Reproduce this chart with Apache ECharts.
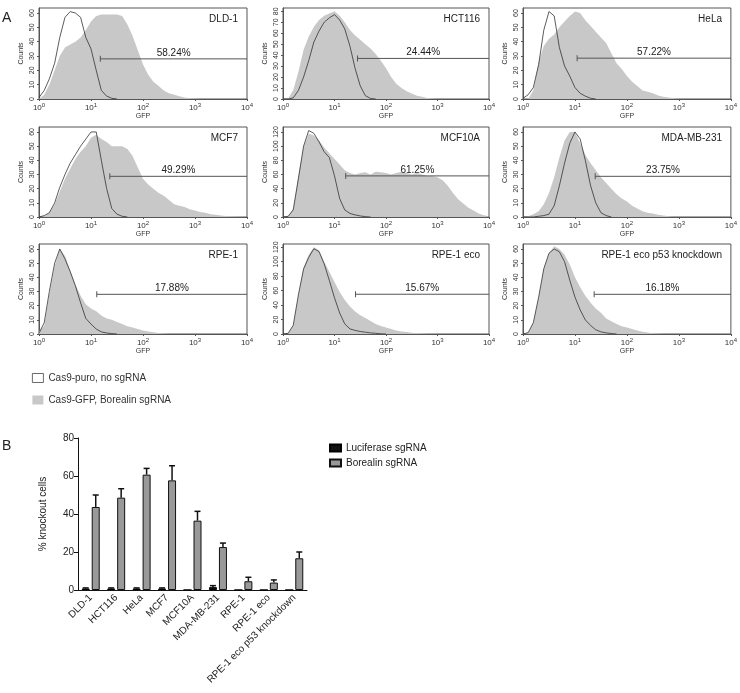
<!DOCTYPE html>
<html>
<head>
<meta charset="utf-8">
<script src="https://cdn.jsdelivr.net/npm/echarts@6/dist/echarts.min.js"></script>
<style>
html,body{margin:0;padding:0;background:#fff}
#chart{width:740px;height:693px}
</style>
</head>
<body>
<div id="chart"></div>
<script>
// GFP bins, 0.1 decade apart
var gfp = [1,1.26,1.58,2,2.51,3.16,3.98,5.01,6.31,7.94,10,12.6,15.8,20,25.1,31.6,39.8,50.1,63.1,79.4,100,126,158,200,251,316,398,501,631,794,1000,1259,1585,1995,2512,3162,3981,5012,6310,7943,10000];

var panelNames = ['DLD-1','HCT116','HeLa','MCF7','MCF10A','MDA-MB-231','RPE-1','RPE-1 eco','RPE-1 eco p53 knockdown'];
var gatePercent = ['58.24%','24.44%','57.22%','49.29%','61.25%','23.75%','17.88%','15.67%','16.18%'];
var gateStart = [15.1,28,11,23,16.5,24.5,12.9,25.6,23.4];
var gateLevel = [28,37,28.5,28.7,58,28.7,28,55,28];
var countsMax = [63.5,83,63.5,63.5,127,63.5,63.5,124.5,63.5];
var countsStep = [10,10,10,10,20,10,10,20,10];

// Cas9-puro, no sgRNA (outline)
var dld1Puro = [1,6,14,25,43,57,61,60,57,43,35,20,6,2,0.5,0];
var hct116Puro = [0,0,1,8,20,35,52,62,70,74,77,72,64,48,28,12,3,0.5,0];
var helaPuro = [0.5,3,8,24,48,61,58,36,23,16,8,4,2,0.5,0];
var mcf7Puro = [0,1,3,10,21,30,38,44,50,55,60,60,40,20,6,2,0.5,0];
var mcf10aPuro = [0,1,10,55,100,122,118,106,92,84,58,26,10,5,3,1.5,0.5,0];
var mdaPuro = [0,0,0,0.5,1,2,8,22,38,52,60,55,40,22,10,3,1,0];
var rpe1Puro = [0.5,8,30,50,60,53,44,34,22,11,7,3.5,1.5,0.7,0.3,0];
var rpeEcoPuro = [0,1,12,55,90,106,118,114,97,74,50,29,14,7,5,3.5,2.5,1.5,1,0.3,0];
var p53Puro = [0,1,8,26,46,57,60,58,51,38,26,17,10,6,3,1.5,0.8,0.3,0];

// Cas9-GFP, Borealin sgRNA (filled)
var dld1Gfp = [0,3,10,20,30,36,38,40,43,48,54,58,59,59,59,59,58,52,44,34,24,17,12,9,6,4,3,2,1,0.5,0.3,0];
var hct116Gfp = [0,0.5,8,25,45,57,66,72,76,78,80,76,70,63,58,54,50,46,41,35,28,20,14,10,7,5,3,2,1,0.5,0];
var helaGfp = [0,0,6,26,37,42,45,50,54,58,61,60,55,51,47,43,39,32,25,21,16,12,9,6,5,4,2.5,1.5,1,0.5,0];
var mcf7Gfp = [0,0.5,3,9,18,27,34,41,46,50,56,58,55,53,50,50,50,48,43,35,27,23,20,17,15,12,9,8,7,5.5,4.5,3.5,3,2,1.5,1,0.7,0.5,0.3,0.1,0];
var mcf10aGfp = [0,1,12,60,100,118,115,108,98,90,82,74,66,62,60,62,63,60,64,63,62,60,62,64,62,60,62,60,58,58,56,52,44,34,25,19,13,9,5,2.5,1];
var mdaGfp = [0,0.5,2,4,9,17,28,42,54,60,60,52,44,38,33,28,24,20,16,13,11,8,6,4,3,2.5,1.5,1,0.5,0];
var rpe1Gfp = [2,6,28,48,60,55,45,35,27,21,18,16,13,11,10,8.5,7,5.5,4.5,3.5,2.5,1.8,1.2,0.7,0.4,0];
var rpeEcoGfp = [0,1,12,55,92,110,120,116,100,86,72,58,47,38,31,26,22,18,14,11,9,7,5,3.5,2.6,1.9,1.3,0.9,0.5,0.2,0];
var p53Gfp = [0,1,8,26,46,57,62,60,56,49,40,33,27,22,18,15,11,9,7,5.5,4.5,3.5,2.5,1.6,1.1,0.6,0.3,0];

var puroSets = [dld1Puro,hct116Puro,helaPuro,mcf7Puro,mcf10aPuro,mdaPuro,rpe1Puro,rpeEcoPuro,p53Puro];
var gfpSets = [dld1Gfp,hct116Gfp,helaGfp,mcf7Gfp,mcf10aGfp,mdaGfp,rpe1Gfp,rpeEcoGfp,p53Gfp];

// panel B
var cellLines = ['DLD-1','HCT116','HeLa','MCF7','MCF10A','MDA-MB-231','RPE-1','RPE-1 eco','RPE-1 eco p53 knockdown'];
var luciferase = [0.8,0.8,0.8,0.8,0,1.5,0,0,0];
var luciferaseErr = [0.3,0.3,0.3,0.3,0,0.8,0,0,0];
var borealin = [43.7,48.6,60.7,57.7,36.5,22.6,4.6,3.9,16.7];
var borealinErr = [6.3,4.7,3.3,7.7,4.9,2.1,2.1,1.4,3.3];

var FONT = '"Liberation Sans", Arial, sans-serif';
var PURO = 'Cas9-puro, no sgRNA';
var GFP = 'Cas9-GFP, Borealin sgRNA';

var chart = echarts.init(document.getElementById('chart'), null, {renderer: 'canvas'});

var lefts = [39,283,523], widths = [208,206,208];
var tops = [8,127,244], heights = [91,90,90];

var grids = [], xAxes = [], yAxes = [], series = [], titles = [];

function pairs(arr) {
    return arr.map(function (v, k) { return [gfp[k], v]; });
}

panelNames.forEach(function (name, i) {
    var col = i % 3, row = Math.floor(i / 3);
    grids.push({
        left: lefts[col], top: tops[row], width: widths[col], height: heights[row],
        show: true, borderColor: '#555', borderWidth: 1, backgroundColor: 'transparent'
    });
    xAxes.push({
        type: 'log', logBase: 10, gridIndex: i, min: 1, max: 10000,
        name: 'GFP', nameLocation: 'middle', nameGap: 12,
        nameTextStyle: {fontSize: 7, color: '#333', fontFamily: FONT},
        axisLine: {show: true, lineStyle: {color: '#555', width: 1}},
        axisTick: {show: true, length: 2, lineStyle: {color: '#555'}},
        minorTick: {show: false},
        splitLine: {show: false},
        axisLabel: {
            margin: 3, color: '#333', fontFamily: FONT,
            formatter: function (v) {
                return '{a|10}{e|' + Math.round(Math.log(v) / Math.LN10) + '}';
            },
            rich: {
                a: {fontSize: 8, fontFamily: FONT, color: '#333'},
                e: {fontSize: 6, fontFamily: FONT, color: '#333', padding: [0, 0, 6, 0]}
            }
        }
    });
    yAxes.push({
        type: 'value', gridIndex: i, min: 0, max: countsMax[i], interval: countsStep[i],
        name: 'Counts', nameLocation: 'middle', nameGap: 14,
        nameTextStyle: {fontSize: 7, color: '#333', fontFamily: FONT},
        axisLine: {show: true, lineStyle: {color: '#555', width: 1}},
        axisTick: {show: true, length: 2, lineStyle: {color: '#555'}},
        splitLine: {show: false},
        axisLabel: {rotate: 90, fontSize: 7, margin: 3, color: '#333', fontFamily: FONT, showMaxLabel: false}
    });
    titles.push({
        text: name, right: 740 - (lefts[col] + widths[col]) + 9, top: tops[row] + 6, padding: 0,
        textStyle: {fontSize: 10, fontWeight: 'normal', color: '#222', fontFamily: FONT}
    });
    series.push({
        name: GFP, type: 'line', xAxisIndex: i, yAxisIndex: i,
        data: pairs(gfpSets[i]), symbol: 'none', silent: true,
        lineStyle: {width: 0, color: '#c8c8c8'}, itemStyle: {color: '#c8c8c8'},
        areaStyle: {color: '#c8c8c8', opacity: 1}, z: 2
    });
    series.push({
        name: PURO, type: 'line', xAxisIndex: i, yAxisIndex: i,
        data: pairs(puroSets[i]), symbol: 'none', silent: true,
        lineStyle: {width: 0.8, color: '#333'}, itemStyle: {color: '#333'}, z: 3
    });
    series.push({
        type: 'line', xAxisIndex: i, yAxisIndex: i, silent: true, z: 4,
        lineStyle: {width: 1, color: '#555'}, itemStyle: {color: '#555'},
        data: [
            {value: [gateStart[i], gateLevel[i]], symbol: 'rect', symbolSize: [1, 6]},
            {value: [Math.sqrt(gateStart[i] * 10000), gateLevel[i]], symbol: 'rect', symbolSize: [0.01, 0.01],
             label: {show: true, position: 'top', distance: 1, formatter: gatePercent[i],
                     fontSize: 10, color: '#222', fontFamily: FONT}},
            {value: [10000, gateLevel[i]], symbol: 'rect', symbolSize: [0.01, 0.01]}
        ]
    });
});

// panel B grid
var bi = panelNames.length;
grids.push({left: 78, top: 438, width: 229, height: 152});
xAxes.push({
    type: 'category', gridIndex: bi, data: cellLines,
    axisLine: {lineStyle: {color: '#111', width: 1}},
    axisTick: {show: false},
    axisLabel: {rotate: 45, interval: 0, fontSize: 10, margin: 6, color: '#222', fontFamily: FONT}
});
yAxes.push({
    type: 'value', gridIndex: bi, min: 0, max: 80, interval: 20,
    name: '% knockout cells', nameLocation: 'middle', nameGap: 30,
    nameTextStyle: {fontSize: 10, color: '#222', fontFamily: FONT},
    axisLine: {show: true, lineStyle: {color: '#111', width: 1}},
    axisTick: {show: true, length: 4, lineStyle: {color: '#111'}},
    splitLine: {show: false},
    axisLabel: {fontSize: 10, margin: 4, color: '#222', fontFamily: FONT}
});
series.push({
    name: 'Luciferase sgRNA', type: 'bar', xAxisIndex: bi, yAxisIndex: bi,
    data: luciferase, barWidth: 8, barGap: '25%',
    itemStyle: {color: '#111', borderColor: '#000', borderWidth: 1}
});
series.push({
    name: 'Borealin sgRNA', type: 'bar', xAxisIndex: bi, yAxisIndex: bi,
    data: borealin, barWidth: 8, barGap: '25%',
    itemStyle: {color: '#999', borderColor: '#111', borderWidth: 1}
});

function errorSeries(vals, errs, offset) {
    return {
        type: 'custom', xAxisIndex: bi, yAxisIndex: bi, silent: true, z: 5,
        data: vals.map(function (v, k) { return [k, v, errs[k]]; }),
        renderItem: function (params, api) {
            var e = api.value(2);
            if (!e) return null;
            var v = api.value(1);
            var p0 = api.coord([api.value(0), v]);
            var p1 = api.coord([api.value(0), v + e]);
            var x = p0[0] + offset;
            var st = {stroke: '#111', lineWidth: 1.5};
            return {type: 'group', children: [
                {type: 'line', shape: {x1: x, y1: p0[1], x2: x, y2: p1[1]}, style: st},
                {type: 'line', shape: {x1: x - 3, y1: p1[1], x2: x + 3, y2: p1[1]}, style: st}
            ]};
        }
    };
}
series.push(errorSeries(luciferase, luciferaseErr, -5));
series.push(errorSeries(borealin, borealinErr, 5));

var option = {
    animation: false,
    backgroundColor: '#fff',
    textStyle: {fontFamily: FONT},
    title: titles,
    grid: grids,
    xAxis: xAxes,
    yAxis: yAxes,
    legend: [
        {
            orient: 'vertical', left: 27, top: 368, itemWidth: 11, itemHeight: 9, itemGap: 12,
            selectedMode: false, icon: 'rect',
            textStyle: {fontSize: 10, color: '#333', fontFamily: FONT},
            data: [
                {name: PURO, icon: 'rect', itemStyle: {color: '#fff', borderColor: '#444', borderWidth: 0.8}},
                {name: GFP, icon: 'rect', itemStyle: {color: '#c8c8c8', borderWidth: 0}}
            ]
        },
        {
            orient: 'vertical', left: 324, top: 438, itemWidth: 11, itemHeight: 7, itemGap: 5,
            selectedMode: false, icon: 'rect',
            textStyle: {fontSize: 10, color: '#222', fontFamily: FONT},
            data: ['Luciferase sgRNA', 'Borealin sgRNA']
        }
    ],
    graphic: [
        {type: 'text', left: 2, top: 11, style: {text: 'A', fontSize: 14, fill: '#222', fontFamily: FONT}},
        {type: 'text', left: 2, top: 439, style: {text: 'B', fontSize: 14, fill: '#222', fontFamily: FONT}}
    ],
    series: series
};

chart.setOption(option);
</script>
</body>
</html>
